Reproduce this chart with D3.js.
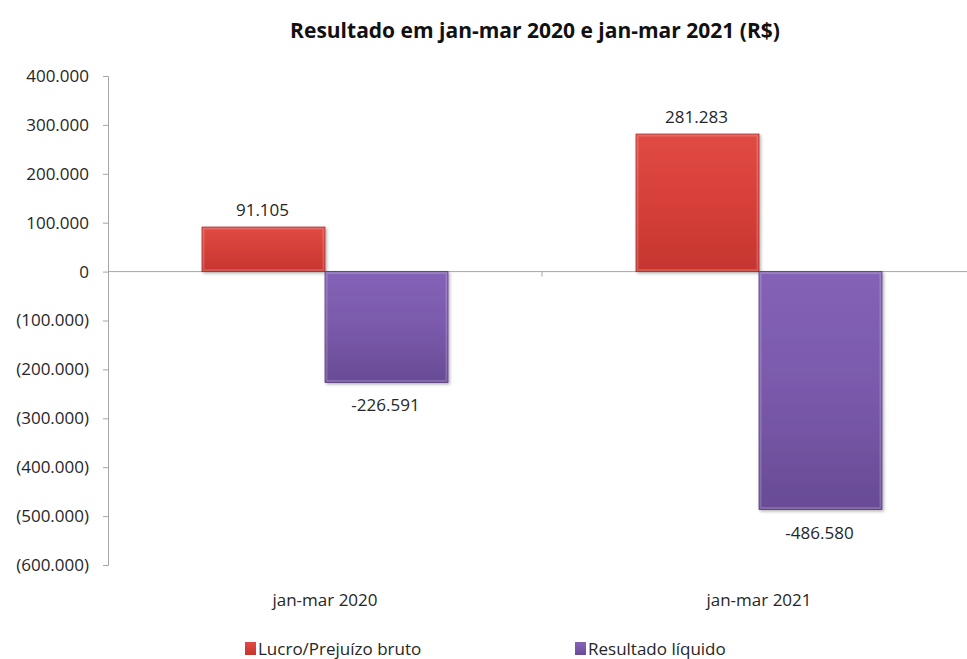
<!DOCTYPE html>
<html lang="pt">
<head>
  <meta charset="UTF-8">
  <title>Resultado em jan-mar 2020 e jan-mar 2021 (R$)</title>
  <script src="https://d3js.org/d3.v7.min.js"></script>
  <style>
    body { margin: 0; background: #fff; }
    text { font-family: "Open Sans", sans-serif; fill: #262626; }
    .axis path, .axis line { stroke: #a6a6a6; }
    .title { font-weight: bold; font-size: 21px; fill: #111; }
  </style>
</head>
<body>
<svg id="chart"></svg>

<script>
  // data
  var categories = ["jan-mar 2020", "jan-mar 2021"];
  var seriesNames = ["Lucro/Prejuízo bruto", "Resultado líquido"];
  var lucroBruto = [91105, 281283];
  var resultadoLiquido = [-226591, -486580];
  var yTicks = [400000, 300000, 200000, 100000, 0, -100000, -200000, -300000, -400000, -500000, -600000];

  var svgWidth = 967, svgHeight = 659;
  var svg = d3.select("#chart").attr("width", svgWidth).attr("height", svgHeight);

  var br = d3.formatLocale({ decimal: ",", thousands: ".", grouping: [3], currency: ["R$", ""] });
  var fmt = br.format(",d");
  var axisFmt = function(d) { return d < 0 ? "(" + fmt(-d) + ")" : fmt(d); };

  var plotLeft = 108, plotTop = 76, plotBottom = 565;
  var bandW = 434;

  var x = d3.scaleBand().domain(categories).range([plotLeft, plotLeft + bandW * 2]).padding(0);
  var x1 = d3.scaleBand().domain(seriesNames).range([94, 340]).padding(0);
  var y = d3.scaleLinear().domain([-600000, 400000]).range([plotBottom, plotTop]);

  // gradients
  var defs = svg.append("defs");
  var colors = {
    "Lucro/Prejuízo bruto": ["#e04a44", "#d63f39", "#c5352f"],
    "Resultado líquido": ["#8463b7", "#7a59ab", "#684b95"]
  };
  var edges = ["#a82c27", "#54397c"];
  seriesNames.forEach(function(s, i) {
    var g = defs.append("linearGradient").attr("id", "grad" + i)
      .attr("x1", 0).attr("y1", 0).attr("x2", 0).attr("y2", 1);
    g.append("stop").attr("offset", "0%").attr("stop-color", colors[s][0]);
    g.append("stop").attr("offset", "50%").attr("stop-color", colors[s][1]);
    g.append("stop").attr("offset", "100%").attr("stop-color", colors[s][2]);
  });
  var sh = defs.append("filter").attr("id", "shadow").attr("x", "-10%").attr("y", "-10%").attr("width", "130%").attr("height", "130%");
  sh.append("feDropShadow").attr("dx", 1.5).attr("dy", 1.5).attr("stdDeviation", 1.5).attr("flood-color", "#000").attr("flood-opacity", 0.3);

  // title
  svg.append("text").attr("class", "title")
    .attr("x", 535).attr("y", 38).attr("text-anchor", "middle")
    .text("Resultado em jan-mar 2020 e jan-mar 2021 (R$)");

  // y axis
  var yAxis = svg.append("g").attr("class", "axis")
    .attr("transform", "translate(" + plotLeft + ",0)")
    .call(d3.axisLeft(y).tickValues(yTicks).tickFormat(axisFmt).tickSize(5).tickSizeOuter(5).tickPadding(14));
  yAxis.selectAll("text").style("font-size", "17px").attr("fill", "#262626");

  // zero line with category separator tick
  svg.append("line").attr("class", "zero")
    .attr("x1", plotLeft).attr("x2", svgWidth).attr("y1", y(0)).attr("y2", y(0))
    .attr("stroke", "#a6a6a6");
  svg.selectAll(".sep").data(categories.slice(1)).enter().append("line")
    .attr("x1", function(d) { return x(d); }).attr("x2", function(d) { return x(d); })
    .attr("y1", y(0)).attr("y2", y(0) + 5).attr("stroke", "#a6a6a6");

  // bars
  var rows = [];
  categories.forEach(function(c, i) {
    rows.push({ cat: c, s: seriesNames[0], si: 0, v: lucroBruto[i] });
    rows.push({ cat: c, s: seriesNames[1], si: 1, v: resultadoLiquido[i] });
  });

  var bars = svg.selectAll(".bar").data(rows).enter().append("g").attr("class", "bar");
  bars.append("rect")
    .attr("x", function(d) { return x(d.cat) + x1(d.s); })
    .attr("y", function(d) { return Math.min(y(d.v), y(0)); })
    .attr("width", x1.bandwidth())
    .attr("height", function(d) { return Math.abs(y(d.v) - y(0)); })
    .attr("fill", function(d) { return "url(#grad" + d.si + ")"; })
    .attr("stroke", function(d) { return edges[d.si]; }).attr("stroke-width", 0.8)
    .attr("filter", "url(#shadow)");
  // bevel highlight
  bars.append("rect")
    .attr("x", function(d) { return x(d.cat) + x1(d.s) + 1.5; })
    .attr("y", function(d) { return Math.min(y(d.v), y(0)) + 1.5; })
    .attr("width", x1.bandwidth() - 3)
    .attr("height", function(d) { return Math.abs(y(d.v) - y(0)) - 3; })
    .attr("fill", "none").attr("stroke", "#fff").attr("stroke-opacity", 0.18).attr("stroke-width", 2);

  // value labels
  svg.selectAll(".bar-label").data(rows).enter().append("text")
    .attr("class", "bar-label")
    .attr("x", function(d) { return x(d.cat) + x1(d.s) + x1.bandwidth() / 2 - 1; })
    .attr("y", function(d) { return d.v >= 0 ? y(d.v) - 11 : y(d.v) + 29; })
    .attr("text-anchor", "middle")
    .style("font-size", "17px")
    .text(function(d) { return d.v < 0 ? "-" + fmt(-d.v) : fmt(d.v); });

  // category labels
  svg.selectAll(".cat-label").data(categories).enter().append("text")
    .attr("x", function(d) { return x(d) + x.bandwidth() / 2; })
    .attr("y", 606).attr("text-anchor", "middle")
    .style("font-size", "17px")
    .text(function(d) { return d; });

  // legend
  var legendX = [245, 575];
  var lg = svg.selectAll(".legend").data(seriesNames).enter().append("g")
    .attr("transform", function(d, i) { return "translate(" + legendX[i] + ",642)"; });
  lg.append("rect").attr("width", 11).attr("height", 13)
    .attr("fill", function(d, i) { return "url(#grad" + i + ")"; });
  lg.append("text").attr("x", 13).attr("y", 13)
    .style("font-size", "17px")
    .text(function(d) { return d; });
</script>
</body>
</html>
